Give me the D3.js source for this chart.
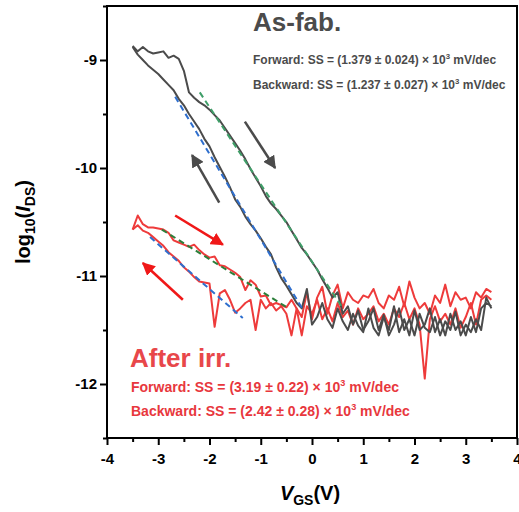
<!DOCTYPE html>
<html>
<head>
<meta charset="utf-8">
<script src="https://cdn.jsdelivr.net/npm/d3@7"></script>
<style>
  body { margin: 0; background: #fff; }
  text { font-family: Arial, "Liberation Sans", sans-serif; font-weight: bold; }
</style>
</head>
<body>
<div id="chart"></div>
<script>
// gate voltage grid, -3.5 V .. 3.5 V in 0.1 V steps
const vgs = ["-3.5","-3.4","-3.3","-3.2","-3.1","-3.0","-2.9","-2.8","-2.7","-2.6","-2.5","-2.4","-2.3","-2.2","-2.1","-2.0",
  "-1.9","-1.8","-1.7","-1.6","-1.5","-1.4","-1.3","-1.2","-1.1","-1.0","-0.9","-0.8","-0.7","-0.6","-0.5","-0.4","-0.3","-0.2","-0.1",
  "0.0","0.1","0.2","0.3","0.4","0.5","0.6","0.7","0.8","0.9","1.0","1.1","1.2","1.3","1.4","1.5","1.6","1.7","1.8","1.9",
  "2.0","2.1","2.2","2.3","2.4","2.5","2.6","2.7","2.8","2.9","3.0","3.1","3.2","3.3","3.4","3.5"].map(Number)

// log10(IDS), as-fabricated
const fabForward = [-8.87,-8.92,-8.88,-8.92,-8.94,-8.93,-8.92,-8.98,-8.96,-8.99,-9.10,-9.30,-9.35,-9.39,-9.42,-9.46,
  -9.51,-9.56,-9.63,-9.70,-9.77,-9.84,-9.92,-10.01,-10.09,-10.17,-10.26,-10.33,-10.38,-10.44,-10.50,-10.58,-10.66,-10.74,-10.80,
  -10.87,-10.94,-11.03,-11.11,-11.20,-11.15,-11.35,-11.28,-11.45,-11.32,-11.50,-11.42,-11.30,-11.50,-11.36,-11.55,-11.45,-11.30,-11.50,-11.40,
  -11.55,-11.35,-11.48,-11.52,-11.38,-11.55,-11.42,-11.50,-11.33,-11.55,-11.45,-11.52,-11.40,-11.50,-11.20,-11.30]
const fabBackward = [-8.88,-8.95,-9.00,-9.05,-9.09,-9.13,-9.18,-9.23,-9.28,-9.36,-9.42,-9.50,-9.57,-9.64,-9.73,-9.80,
  -9.90,-9.99,-10.08,-10.18,-10.29,-10.36,-10.45,-10.52,-10.58,-10.65,-10.73,-10.80,-10.92,-11.02,-11.09,-11.17,-11.25,-11.30,-11.12,
  -11.45,-11.38,-11.25,-11.40,-11.48,-11.30,-11.42,-11.50,-11.35,-11.46,-11.52,-11.30,-11.48,-11.55,-11.38,-11.50,-11.28,-11.52,-11.40,-11.55,
  -11.32,-11.50,-11.45,-11.30,-11.52,-11.40,-11.55,-11.35,-11.50,-11.42,-11.55,-11.38,-11.52,-11.30,-11.25,-11.28]

// log10(IDS), after irradiation
const irrForward = [-10.57,-10.44,-10.52,-10.55,-10.55,-10.56,-10.57,-10.60,-10.67,-10.69,-10.71,-10.73,-10.71,-10.76,-10.80,-10.83,
  -10.82,-10.90,-10.91,-10.94,-10.97,-11.01,-11.13,-11.04,-11.08,-11.19,-11.18,-11.27,-11.25,-11.27,-11.29,-11.22,-11.30,-11.38,-11.15,
  -11.40,-11.20,-11.10,-11.35,-11.18,-11.08,-11.30,-11.15,-11.22,-11.25,-11.18,-11.20,-11.12,-11.25,-11.30,-11.18,-11.22,-11.10,-11.28,-11.05,
  -11.20,-11.30,-11.25,-11.35,-11.18,-11.25,-11.08,-11.28,-11.15,-11.22,-11.20,-11.30,-11.15,-11.20,-11.12,-11.15]
const irrBackward = [-10.57,-10.53,-10.58,-10.60,-10.64,-10.68,-10.72,-10.78,-10.82,-10.86,-10.92,-10.96,-11.01,-11.05,-11.06,-11.07,
  -11.47,-11.16,-11.13,-11.22,-11.34,-11.30,-11.25,-11.22,-11.50,-11.22,-11.30,-11.25,-11.32,-11.28,-11.35,-11.55,-11.30,-11.55,-11.28,
  -11.35,-11.22,-11.40,-11.30,-11.42,-11.25,-11.38,-11.32,-11.45,-11.30,-11.40,-11.35,-11.28,-11.42,-11.35,-11.45,-11.30,-11.38,-11.25,-11.40,
  -11.30,-11.45,-11.95,-11.40,-11.28,-11.42,-11.35,-11.45,-11.30,-11.48,-11.38,-11.25,-11.45,-11.22,-11.18,-11.22]

// subthreshold fits: [V, log10(IDS)] end points
const fitFabForward = [[-2.19, -9.30], [0.59, -11.29]]
const fitFabBackward = [[-2.67, -9.34], [-0.18, -11.31]]
const fitIrrForward = [[-2.93, -10.57], [-0.49, -11.29]]
const fitIrrBackward = [[-3.16, -10.64], [-1.35, -11.39]]

// sweep direction arrows: [from, to] in data units
const fabArrows = [[[-1.31, -9.57], [-0.72, -10.0]], [[-1.81, -10.32], [-2.34, -9.88]]]
const irrArrows = [[[-2.67, -10.44], [-1.74, -10.71]], [[-2.52, -11.22], [-3.30, -10.88]]]

const xTicks = [-4, -3, -2, -1, 0, 1, 2, 3, 4]
const yTicks = [-12, -11, -10, -9]

const W = 519, H = 512
const mLeft = 107, mRight = 517, mTop = 6, mBottom = 438
const gray = "#4b4b4b", red = "#ee3b3b"

const svg = d3.select("#chart").append("svg")
  .attr("width", W).attr("height", H)

const x = d3.scaleLinear().domain([-4, 4]).range([mLeft, mRight])
const y = d3.scaleLinear().domain([-12.5, -8.5]).range([mBottom, mTop])

svg.append("defs").selectAll("marker")
  .data([["head-gray", gray], ["head-red", "#f01818"]])
  .join("marker")
  .attr("id", d => d[0])
  .attr("viewBox", "0 0 10 10")
  .attr("refX", 9).attr("refY", 5)
  .attr("markerWidth", 5.2).attr("markerHeight", 5.2)
  .attr("markerUnits", "strokeWidth")
  .attr("orient", "auto")
  .append("path")
  .attr("d", "M0,0 L10,5 L0,10 z")
  .attr("fill", d => d[1])

const line = d3.line()
  .x((d, i) => x(vgs[i]))
  .y(d => y(d))

const curves = [
  [irrForward, red], [irrBackward, red],
  [fabForward, gray], [fabBackward, gray]
]
svg.append("g").selectAll("path")
  .data(curves)
  .join("path")
  .attr("d", d => line(d[0]))
  .attr("fill", "none")
  .attr("stroke", d => d[1])
  .attr("stroke-width", 2)
  .attr("stroke-linejoin", "round")

const fitLine = d3.line().x(d => x(d[0])).y(d => y(d[1]))
const fits = [
  [fitFabForward, "#3f9e68"], [fitFabBackward, "#2f6fce"],
  [fitIrrForward, "#2c7f3a"], [fitIrrBackward, "#2f6fce"]
]
svg.append("g").selectAll("path")
  .data(fits)
  .join("path")
  .attr("d", d => fitLine(d[0]))
  .attr("fill", "none")
  .attr("stroke", d => d[1])
  .attr("stroke-width", 2)
  .attr("stroke-dasharray", "6,4")

const arrows = fabArrows.map(a => [a, gray, "head-gray"])
  .concat(irrArrows.map(a => [a, "#f01818", "head-red"]))
svg.append("g").selectAll("line")
  .data(arrows)
  .join("line")
  .attr("x1", d => x(d[0][0][0])).attr("y1", d => y(d[0][0][1]))
  .attr("x2", d => x(d[0][1][0])).attr("y2", d => y(d[0][1][1]))
  .attr("stroke", d => d[1])
  .attr("stroke-width", 2.5)
  .attr("marker-end", d => "url(#" + d[2] + ")")

// axes
const xAxis = svg.append("g")
  .attr("transform", "translate(0," + mBottom + ")")
  .call(d3.axisBottom(x).tickValues(xTicks).tickSize(7).tickFormat(d3.format("d")))
svg.append("g")
  .attr("transform", "translate(0," + mBottom + ")")
  .call(d3.axisBottom(x).tickValues(d3.range(-3.5, 4, 1)).tickSize(4).tickFormat(""))
const yAxis = svg.append("g")
  .attr("transform", "translate(" + mLeft + ",0)")
  .call(d3.axisLeft(y).tickValues(yTicks).tickSize(7).tickFormat(d3.format("d")))
svg.append("g")
  .attr("transform", "translate(" + mLeft + ",0)")
  .call(d3.axisLeft(y).tickValues([-12.5, -11.5, -10.5, -9.5, -8.5]).tickSize(4).tickFormat(""))

svg.selectAll(".domain").remove()
svg.selectAll(".tick line").attr("stroke", "#000").attr("stroke-width", 2)
xAxis.selectAll("text").attr("font-size", 15).attr("dy", "1.05em").attr("fill", "#000")
  .text(d => d < 0 ? "-" + Math.abs(d) : d)
yAxis.selectAll("text").attr("font-size", 15).attr("x", -10).attr("fill", "#000")
  .text(d => "-" + Math.abs(d))

svg.append("rect")
  .attr("x", mLeft).attr("y", mTop)
  .attr("width", mRight - mLeft).attr("height", mBottom - mTop)
  .attr("fill", "none").attr("stroke", "#000").attr("stroke-width", 2)

// axis titles
const xt = svg.append("text")
  .attr("x", (mLeft + mRight) / 2 - 2).attr("y", 500)
  .attr("text-anchor", "middle").attr("font-size", 20)
xt.append("tspan").attr("font-style", "italic").text("V")
xt.append("tspan").attr("font-size", 14).attr("dy", 5).text("GS")
xt.append("tspan").attr("dy", -5).text("(V)")

const yt = svg.append("text")
  .attr("transform", "translate(30," + (mTop + mBottom) / 2 + ") rotate(-90)")
  .attr("text-anchor", "middle").attr("font-size", 20)
yt.append("tspan").text("log")
yt.append("tspan").attr("font-size", 14).attr("dy", 5).text("10")
yt.append("tspan").attr("dy", -5).text("(")
yt.append("tspan").attr("font-style", "italic").text("I")
yt.append("tspan").attr("font-size", 14).attr("dy", 5).text("DS")
yt.append("tspan").attr("dy", -5).text(")")

// annotations
function ssLine(xp, yp, size, color, label, val) {
  const t = svg.append("text").attr("x", xp).attr("y", yp)
    .attr("font-size", size).attr("fill", color)
  t.append("tspan").text(label + ": SS = (" + val + ") \u00d7 10")
  t.append("tspan").attr("font-size", size * 0.65).attr("dy", -size * 0.4).text("3")
  t.append("tspan").attr("dy", size * 0.4).text(" mV/dec")
}
svg.append("text").attr("x", 253).attr("y", 31)
  .attr("font-size", 26).attr("fill", gray).text("As-fab.")
ssLine(253, 64, 12, gray, "Forward", "1.379 \u00b1 0.024")
ssLine(253, 89, 12, gray, "Backward", "1.237 \u00b1 0.027")

svg.append("text").attr("x", 130).attr("y", 367)
  .attr("font-size", 26).attr("fill", "#e8474a").text("After irr.")
ssLine(131, 392, 14, "#e8373d", "Forward", "3.19 \u00b1 0.22")
ssLine(131, 416, 14, "#e8373d", "Backward", "2.42 \u00b1 0.28")
</script>
</body>
</html>
